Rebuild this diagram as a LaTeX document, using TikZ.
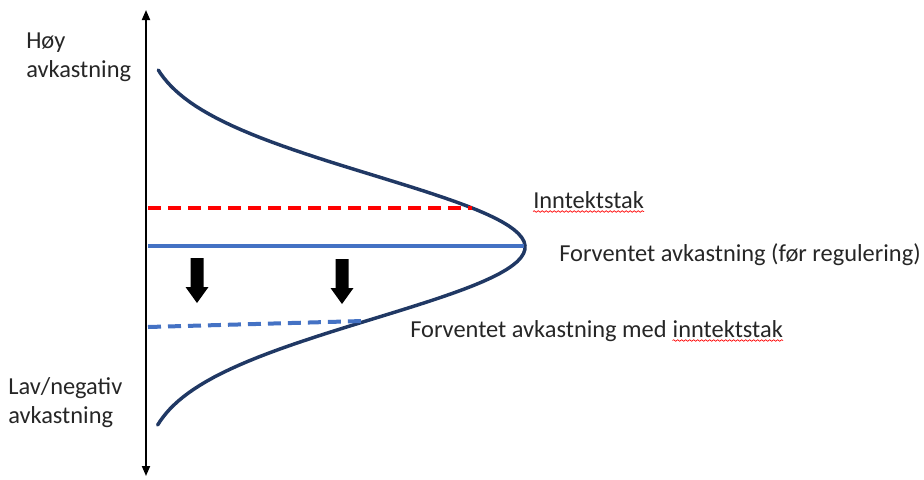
\documentclass[tikz,border=0pt]{standalone}
\usepackage{fontspec}
\setmainfont{Carlito}
\usetikzlibrary{arrows.meta, calc, decorations.pathmorphing}
\definecolor{curvenavy}{RGB}{32, 56, 100}
\definecolor{capred}{RGB}{255, 0, 0}
\definecolor{returnblue}{RGB}{68, 114, 196}
\definecolor{labelgray}{RGB}{38, 38, 38}
\tikzset{
  axisline/.style={{Triangle[length=7.5pt, width=6pt]}-{Triangle[length=7.5pt, width=6pt]}, line width=1.4pt, black},
  bellcurve/.style={line width=2.6pt, curvenavy, line cap=round},
  capline/.style={line width=3pt, capred, dash pattern=on 9.75pt off 5.25pt},
  expline/.style={line width=2.3pt, returnblue},
  capexpline/.style={line width=3pt, returnblue, dash pattern=on 9.75pt off 5.25pt},
  txtlabel/.style={font=\fontsize{18.3}{21.5}\selectfont, text=labelgray, inner sep=0pt, anchor=base west, align=left},
  spellmark/.style={decorate, decoration={snake, amplitude=0.6pt, segment length=3pt}, capred, line width=0.5pt},
  blockdown/.pic={\fill[black] (-6.5,-22) -- (6.5,-22) -- (6.5,7) -- (11.5,7) -- (0,23) -- (-11.5,7) -- (-6.5,7) -- cycle;}
}
\begin{document}
\begin{tikzpicture}[x=0.75pt, y=-0.75pt]
    \useasboundingbox (0,0) rectangle (924,479);

    % Return axis
    \coordinate (ytop) at (146,10);
    \coordinate (ybot) at (146,476);
    \draw[axisline] (ybot) -- (ytop);

    % Distribution of returns
    \draw[bellcurve] plot[domain=70:425, samples=90, variable=\t]
        ({140+385*exp(-(((\t-247)/100)^2)/1.0277)}, \t);

    % Levels
    \coordinate (capL) at (148,208);
    \coordinate (capR) at (472,208);
    \coordinate (expL) at (148,246);
    \coordinate (expR) at (524,246);
    \coordinate (newL) at (148,327);
    \coordinate (newR) at (363,321);
    \draw[capline] (capL) -- (capR);
    \draw[expline] (expL) -- (expR);
    \draw[capexpline] (newL) -- (newR);

    % Shift arrows
    \pic at (197,280) {blockdown};
    \pic at (342,281) {blockdown};

    % Labels
    \node[txtlabel] (high) at (26,77) {Høy\\avkastning};
    \node[txtlabel] (low) at (8,423) {Lav/negativ\\avkastning};
    \node[txtlabel] (captxt) at (533,208) {Inntektstak};
    \node[txtlabel] (exptxt) at (559,261) {Forventet avkastning (før regulering)};
    \node[txtlabel] (newtxt) at (410,337) {Forventet avkastning med};
    \node[txtlabel] (newword) at ($(newtxt.base east)+(5.5,0)$) {inntektstak};

    % Spelling marks
    \draw[spellmark] ($(captxt.base west)+(0,3.5)$) -- ($(captxt.base east)+(0,3.5)$);
    \draw[spellmark] ($(newword.base west)+(0,3.5)$) -- ($(newword.base east)+(0,3.5)$);
\end{tikzpicture}
\end{document}
